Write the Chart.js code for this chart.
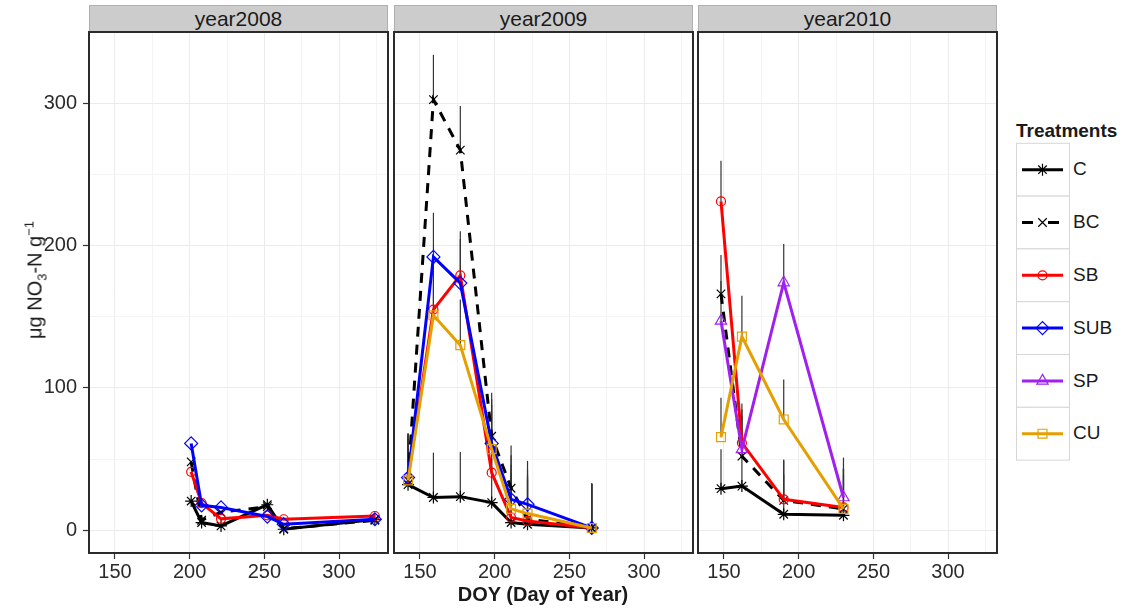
<!DOCTYPE html>
<html>
<head>
<meta charset="utf-8">
<script src="https://cdn.jsdelivr.net/npm/chart.js@4.4.1/dist/chart.umd.min.js"></script>
<style>
 body{margin:0;width:1128px;height:609px;position:relative;background:#fff;overflow:hidden;
   font-family:"Liberation Sans",Arial,sans-serif;color:#1a1a1a}
 canvas{position:absolute;top:0}
 .strip{position:absolute;top:5px;height:27px;width:299px;background:#cccccc;border:1px solid #b0b0b0;
   box-sizing:border-box;text-align:center;font-size:21px;line-height:25px;color:#1a1a1a}
 #ytitle{position:absolute;left:35px;top:280px;transform:translate(-50%,-50%) rotate(-90deg);
   white-space:nowrap;font-size:20px}
 #ytitle sub,#ytitle sup{font-size:13px;line-height:0}
 #xtitle{position:absolute;left:543px;top:594px;transform:translate(-50%,-50%);font-weight:bold;font-size:20px;white-space:nowrap}
 #legTitle{position:absolute;left:1016px;top:120px;font-weight:bold;font-size:19px;line-height:22px}
 .legLab{position:absolute;left:1073px;font-size:19px}
</style>
</head>
<body>
<div class="strip" style="left:89px">year2008</div>
<div class="strip" style="left:394px">year2009</div>
<div class="strip" style="left:698px">year2010</div>
<canvas id="p2008" width="392" height="609" style="left:0px"></canvas>
<canvas id="p2009" width="306" height="609" style="left:390px"></canvas>
<canvas id="p2010" width="306" height="609" style="left:694px"></canvas>
<div id="ytitle">μg NO<sub>3</sub>-N g<sup>−1</sup></div>
<div id="xtitle">DOY (Day of Year)</div>
<div id="legTitle">Treatments</div>
<canvas id="legKeys" width="56" height="320" style="left:1015px;top:142px"></canvas>
<div id="legLabels"></div>
<script>
// treatments and their look
const treatments = ['C', 'BC', 'SB', 'SUB', 'SP', 'CU'];
const colors = ['#000000', '#000000', '#ff0000', '#0000ff', '#a020f0', '#e69f00'];
const markers = ['star', 'crossRot', 'circle', 'rectRot', 'triangle', 'rect'];
const radii = [6, 6, 4.5, 6.5, 6.5, 6.3];
const dashes = [[], [10, 8], [], [], [], []];

// 2008
const doy2008 = [201, 208, 221, 252, 263, 324];
const c2008 = [20.5, 5.4, 3, 17.9, 0.7, 7.5];
const bc2008 = [48, 7, 12.6, 16.6, 1, 7];
const sb2008 = [41, 19, 8, 10.5, 7.7, 10];
const sub2008 = [61, 17.5, 16, 9.6, 4.2, 7.7];

// 2009
const doy2009 = [142, 159, 177, 198, 211, 222, 265];
const c2009 = [32, 23, 23.6, 19.4, 5.4, 4.2, 1.6];
const bc2009 = [35, 302.5, 267, 66, 29.5, 8, 1.5];
const sb2009 = [37, 155, 179, 40.4, 8.9, 6.5, 1.6];
const sub2009 = [37, 192, 173.6, 61, 21.7, 18.2, 1.6];
const cu2009 = [35, 151, 130, 57, 15, 11.7, 1.6];
const seC2009 = [36, 31.5, 31.4, 31, 31, 31, 31];
const seBC2009 = [31, 31.5, 31, 30.5, 30, 31, 31];
const seSB2009 = [31, 31, 31, 31, 31, 31, 31];
const seSUB2009 = [31, 31, 31, 31, 31, 30.5, 31.4];
const seCU2009 = [31, 31, 32, 31, 31, 31, 31];

// 2010
const doy2010 = [148, 162, 190, 230];
const c2010 = [29.2, 31, 11.2, 10.5];
const bc2010 = [166, 52, 21, 15];
const sb2010 = [231, 61.4, 21.7, 16];
const sp2010 = [147, 56.8, 174, 23];
const cu2010 = [65.4, 136, 77.8, 15];
const seC2010 = [27.6, 28, 28, 28];
const seBC2010 = [27.4, 28, 28, 28];
const seSB2010 = [28.5, 27.6, 28, 28];
const seSP2010 = [28, 28, 27, 28];
const seCU2010 = [27.6, 28.7, 28, 28];

const xTicks = [150, 175, 200, 225, 250, 275, 300, 325];
const yTicks = [0, 50, 100, 150, 200, 250, 300];

Chart.defaults.font.family = '"Liberation Sans", Arial, sans-serif';

function makeSets(doy, rows) {
  return rows.map(([name, vals, se]) => {
    const k = treatments.indexOf(name);
    return {
      label: name,
      data: doy.map((d, i) => ({x: d, y: vals[i]})),
      se: se,
      borderColor: colors[k],
      borderWidth: 3,
      borderDash: dashes[k],
      pointStyle: markers[k],
      pointRadius: radii[k],
      pointBorderColor: colors[k],
      pointBorderWidth: 1.2,
      pointBackgroundColor: 'rgba(0,0,0,0)',
      tension: 0,
      fill: false,
      order: 5 - k
    };
  });
}

const errorBars = {
  id: 'errorBars',
  beforeDatasetsDraw(chart) {
    const {ctx, chartArea: a, scales: {x, y}} = chart;
    ctx.save();
    ctx.beginPath();
    ctx.rect(a.left, a.top, a.right - a.left, a.bottom - a.top);
    ctx.clip();
    ctx.strokeStyle = '#333';
    ctx.lineWidth = 1.2;
    chart.data.datasets.forEach(ds => {
      if (!ds.se) return;
      ds.data.forEach((p, i) => {
        const px = x.getPixelForValue(p.x);
        ctx.beginPath();
        ctx.moveTo(px, y.getPixelForValue(p.y));
        ctx.lineTo(px, y.getPixelForValue(p.y + ds.se[i]));
        ctx.stroke();
      });
    });
    ctx.restore();
  }
};

const panelBorder = {
  id: 'panelBorder',
  afterDraw(chart) {
    const {ctx, chartArea: a} = chart;
    ctx.save();
    ctx.strokeStyle = '#2b2b2b';
    ctx.lineWidth = 2;
    ctx.strokeRect(a.left, a.top, a.right - a.left, a.bottom - a.top);
    ctx.restore();
  }
};

function panel(id, doy, rows, first) {
  new Chart(document.getElementById(id), {
    type: 'line',
    data: {datasets: makeSets(doy, rows)},
    plugins: [errorBars, panelBorder],
    options: {
      responsive: false,
      animation: false,
      layout: {autoPadding: false, padding: {top: 32, right: first ? 4 : 3, bottom: 0, left: first ? 0 : 4}},
      plugins: {legend: {display: false}, tooltip: {enabled: false}},
      scales: {
        x: {
          type: 'linear', min: 132.6, max: 332.8,
          afterBuildTicks: s => { s.ticks = xTicks.map(v => ({value: v})); },
          afterFit: s => { s.height = 56; s.paddingLeft = 0; s.paddingRight = 0; },
          border: {display: false},
          grid: {
            color: c => c.tick && c.tick.value % 50 === 0 ? '#ebebeb' : '#f4f4f4',
            tickColor: c => c.tick && c.tick.value % 50 === 0 ? '#333' : 'rgba(0,0,0,0)',
            tickLength: 6, tickWidth: 1.2
          },
          ticks: {
            autoSkip: false, maxRotation: 0, padding: 1,
            color: '#2b2b2b', font: {size: 20},
            callback: v => v % 50 === 0 ? v : ''
          }
        },
        y: {
          min: -16, max: 350,
          afterBuildTicks: s => { s.ticks = yTicks.map(v => ({value: v})); },
          afterFit: s => { s.width = first ? 89 : 0; s.paddingTop = 0; s.paddingBottom = 0; },
          border: {display: false},
          grid: {
            color: c => c.tick && c.tick.value % 100 === 0 ? '#ebebeb' : '#f4f4f4',
            drawTicks: first,
            tickColor: c => c.tick && c.tick.value % 100 === 0 ? '#333' : 'rgba(0,0,0,0)',
            tickLength: 6, tickWidth: 1.2
          },
          ticks: {
            display: first, padding: 6,
            color: '#2b2b2b', font: {size: 20},
            callback: v => v % 100 === 0 ? v : ''
          }
        }
      }
    }
  });
}

panel('p2008', doy2008, [
  ['C', c2008, null], ['BC', bc2008, null], ['SB', sb2008, null], ['SUB', sub2008, null]
], true);
panel('p2009', doy2009, [
  ['C', c2009, seC2009], ['BC', bc2009, seBC2009], ['SB', sb2009, seSB2009],
  ['SUB', sub2009, seSUB2009], ['CU', cu2009, seCU2009]
], false);
panel('p2010', doy2010, [
  ['C', c2010, seC2010], ['BC', bc2010, seBC2010], ['SB', sb2010, seSB2010],
  ['SP', sp2010, seSP2010], ['CU', cu2010, seCU2010]
], false);

// legend keys
const lc = document.getElementById('legKeys').getContext('2d');
const boxH = 52.8;
const labs = document.getElementById('legLabels');
treatments.forEach((t, k) => {
  const top = 1.3 + k * boxH;
  lc.fillStyle = '#ffffff';
  lc.fillRect(1.5, top, 53, boxH);
  lc.strokeStyle = '#d6d6d6';
  lc.lineWidth = 1;
  lc.strokeRect(1.5, top, 53, boxH);
  const cy = top + boxH / 2;
  lc.save();
  lc.strokeStyle = colors[k];
  lc.lineWidth = 3;
  lc.setLineDash(k === 1 ? [11, 15] : []);
  lc.beginPath();
  lc.moveTo(7, cy);
  lc.lineTo(48, cy);
  lc.stroke();
  lc.restore();
  lc.save();
  lc.strokeStyle = colors[k];
  lc.fillStyle = 'rgba(0,0,0,0)';
  lc.lineWidth = 1.2;
  if (Chart.helpers && Chart.helpers.drawPoint) {
    Chart.helpers.drawPoint(lc, {pointStyle: markers[k], radius: radii[k], rotation: 0, borderWidth: 1.2}, 27.5, cy);
  }
  lc.restore();
  const d = document.createElement('div');
  d.className = 'legLab';
  d.textContent = t;
  d.style.top = (142 + top) + 'px';
  d.style.height = boxH + 'px';
  d.style.lineHeight = boxH + 'px';
  labs.appendChild(d);
});
</script>
</body>
</html>
